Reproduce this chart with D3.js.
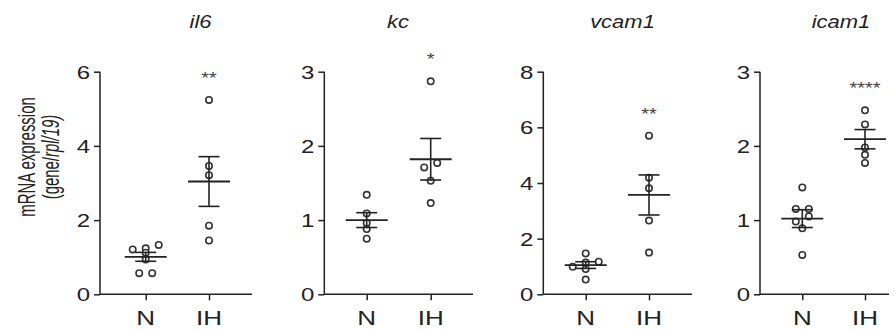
<!DOCTYPE html>
<html><head><meta charset="utf-8">
<script src="https://cdn.jsdelivr.net/npm/d3@7"></script>
<style>body{margin:0;background:#fff}svg{display:block}</style>
</head><body>
<svg id="c" width="896" height="329"></svg>
<script>
// ---------- data ----------
const genes = ["il6", "kc", "vcam1", "icam1"];
const groups = ["N", "IH"];
const yMax = [6, 3, 8, 3];
const yTicks = [[0, 2, 4, 6], [0, 1, 2, 3], [0, 2, 4, 6, 8], [0, 1, 2, 3]];
const il6N = [1.33, 1.24, 1.21, 1.12, 0.94, 0.57, 0.57];
const il6IH = [5.24, 3.46, 3.21, 1.85, 1.45];
const kcN = [1.34, 1.09, 0.96, 0.88, 0.75];
const kcIH = [2.87, 1.77, 1.71, 1.53, 1.23];
const vcam1N = [1.47, 1.17, 1.14, 0.99, 0.91, 0.53];
const vcam1IH = [5.70, 4.19, 3.81, 2.65, 1.50];
const icam1N = [1.44, 1.15, 1.15, 1.05, 0.98, 0.89, 0.53];
const icam1IH = [2.48, 2.29, 1.98, 1.88, 1.77];
const means = [[1.01, 3.04], [1.00, 1.82], [1.05, 3.57], [1.02, 2.09]];
const sems = [[0.12, 0.67], [0.10, 0.28], [0.12, 0.72], [0.12, 0.13]];
const stars = ["**", "*", "**", "****"];
const yLabel1 = "mRNA expression";
const yLabel2 = ["(gene/", "rpl/19)"];

const values = [[il6N, il6IH], [kcN, kcIH], [vcam1N, vcam1IH], [icam1N, icam1IH]];

// ---------- layout ----------
const FONT = "'Liberation Sans', Arial, Helvetica, sans-serif";
const SY = 0.8;              // vertical squash of the reference's text
const INK = "#222";
const plotTop = 71.7, plotBottom = 294.3;
const axisX = [100, 324.3, 543.3, 760];
const axisEnd = [252, 473, 692, 889];
const grpOff = [[45.7, 109], [42.4, 106.4], [42.4, 105.7], [42.3, 105]];
const titleX = [200.5, 398, 622.5, 841];
const R = 3.2;

const svg = d3.select("#c");

function txt(g, x, y, str, size, anchor) {
  return g.append("text")
    .attr("transform", `translate(${x},${y}) scale(1,${SY})`)
    .attr("font-family", FONT).attr("font-size", size)
    .attr("fill", INK).attr("text-anchor", anchor || "middle")
    .text(str);
}

// y label
const yl = svg.append("g").attr("font-family", FONT).attr("fill", INK)
  .attr("font-size", 23).attr("text-anchor", "middle");
yl.append("text").attr("transform", `translate(35,157) scale(1,0.65) rotate(-90)`).text(yLabel1);
const t2 = yl.append("text").attr("transform", `translate(58.5,157) scale(1,0.65) rotate(-90)`);
t2.append("tspan").text(yLabel2[0]);
t2.append("tspan").attr("font-style", "italic").text(yLabel2[1]);

// scatter layout: points closer than one bin height share a row, spread symmetrically
function swarm(vals, y, cx) {
  const pts = vals.map(v => ({v, cy: y(v)})).sort((a, b) => a.cy - b.cy);
  const rows = [];
  const bin = 5.5, spacing = 13;
  pts.forEach(p => {
    const last = rows[rows.length - 1];
    if (last && p.cy - last[0].cy < bin) last.push(p); else rows.push([p]);
  });
  const out = [];
  rows.forEach(row => {
    row.sort((a, b) => a.v - b.v);
    const k = row.length;
    row.forEach((p, idx) => out.push({cx: cx + (idx - (k - 1) / 2) * spacing, cy: p.cy}));
  });
  return out;
}

genes.forEach((gene, i) => {
  const g = svg.append("g");
  const y = d3.scaleLinear().domain([0, yMax[i]]).range([plotBottom, plotTop]);
  const x = d3.scalePoint().domain(groups)
    .range([axisX[i] + grpOff[i][0], axisX[i] + grpOff[i][1]]);

  // y axis
  const ya = g.append("g").attr("transform", `translate(${axisX[i]},0)`)
    .call(d3.axisLeft(y).tickValues(yTicks[i]).tickSize(6).tickFormat(""));
  ya.select(".domain").attr("stroke", INK).attr("stroke-width", 1.5)
    .attr("d", `M0,${plotTop}V${plotBottom}`);
  ya.selectAll(".tick line").attr("stroke", INK).attr("stroke-width", 1.5);
  yTicks[i].forEach(t => txt(g, axisX[i] - 10, y(t) + 0.358 * 24 * SY, d3.format("d")(t), 24, "end"));

  // x axis
  const xa = g.append("g").attr("transform", `translate(0,${plotBottom})`)
    .call(d3.axisBottom(x).tickSize(6).tickFormat(""));
  xa.select(".domain").attr("stroke", INK).attr("stroke-width", 1.5)
    .attr("d", `M${axisX[i]},0H${axisEnd[i]}`);
  xa.selectAll(".tick line").attr("stroke", INK).attr("stroke-width", 1.5);
  groups.forEach(gr => txt(g, x(gr), 325, gr, 26));

  // title
  txt(g, titleX[i], 28, gene, 22).attr("font-style", "italic");

  // points, mean, sem
  groups.forEach((gr, j) => {
    const cx = x(gr);
    const pts = swarm(values[i][j], y, cx);
    g.selectAll(null).data(pts).join("circle")
      .attr("cx", d => d.cx).attr("cy", d => d.cy).attr("r", R)
      .attr("fill", "#fff").attr("stroke", "#333").attr("stroke-width", 1.6);
    const m = means[i][j], s = sems[i][j];
    g.append("line").attr("x1", cx - 21).attr("x2", cx + 21)
      .attr("y1", y(m)).attr("y2", y(m)).attr("stroke", INK).attr("stroke-width", 1.8);
    g.append("line").attr("x1", cx).attr("x2", cx)
      .attr("y1", y(m + s)).attr("y2", y(m - s)).attr("stroke", INK).attr("stroke-width", 1.6);
    [m + s, m - s].forEach(v => g.append("line").attr("x1", cx - 10.5).attr("x2", cx + 10.5)
      .attr("y1", y(v)).attr("y2", y(v)).attr("stroke", INK).attr("stroke-width", 1.6));
    if (j === 1) {
      const topV = d3.max(values[i][j]);
      txt(g, cx, y(topV) - 25 + 0.57 * 20 * SY, stars[i], 20).attr("fill", "#444");
    }
  });
});
</script>
</body></html>
